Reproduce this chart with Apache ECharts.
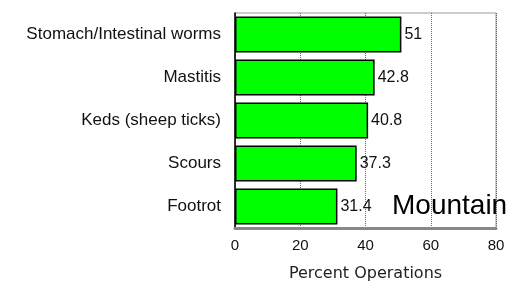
<!DOCTYPE html>
<html>
<head>
<meta charset="utf-8">
<script src="https://cdn.jsdelivr.net/npm/echarts@6/dist/echarts.min.js"></script>
<style>
  html, body { margin: 0; padding: 0; background: #fff; }
  #chart { width: 508px; height: 287px; }
</style>
</head>
<body>
<div id="chart"></div>
<script>
// 数据
var categories = ['Stomach/Intestinal worms', 'Mastitis', 'Keds (sheep ticks)', 'Scours', 'Footrot'];
var values = [51, 42.8, 40.8, 37.3, 31.4];
var valueLabels = ['51', '42.8', '40.8', '37.3', '31.4'];
var xTicks = [0, 20, 40, 60, 80];

var myChart = echarts.init(document.getElementById('chart'));
myChart.setOption({
  animation: false,
  backgroundColor: '#fff',
  grid: {
    left: 235,
    right: 12,
    top: 13,
    bottom: 54,
    show: true,
    borderColor: '#999',
    borderWidth: 1
  },
  graphic: [{
    type: 'text',
    x: 392,
    y: 206,
    style: {
      text: 'Mountain',
      font: '28px "Liberation Sans", Arial, sans-serif',
      fill: '#000',
      verticalAlign: 'middle'
    },
    z: 100
  }],
  xAxis: {
    type: 'value',
    min: xTicks[0],
    max: xTicks[xTicks.length - 1],
    interval: 20,
    name: 'Percent Operations',
    nameLocation: 'middle',
    nameGap: 38,
    nameTextStyle: { fontFamily: 'DejaVu Sans', fontSize: 16, color: '#222' },
    axisLine: { show: true, lineStyle: { color: '#888', width: 3 } },
    axisTick: { show: false },
    axisLabel: { fontFamily: 'Liberation Sans', fontSize: 15, color: '#111', margin: 10 },
    splitLine: { show: true, lineStyle: { type: 'dotted', color: '#666', width: 1 } }
  },
  yAxis: {
    type: 'category',
    inverse: true,
    data: categories,
    axisLine: { show: true, lineStyle: { color: '#000', width: 1.5 } },
    axisTick: { show: false },
    axisLabel: { fontFamily: 'Liberation Sans', fontSize: 17, color: '#111', margin: 14 }
  },
  series: [{
    type: 'bar',
    data: values,
    barCategoryGap: '16%',
    itemStyle: { color: '#00ff00', borderColor: '#000', borderWidth: 1.5 },
    label: {
      show: true,
      position: 'right',
      distance: 3,
      fontFamily: 'Liberation Sans',
      fontSize: 16,
      color: '#111',
      formatter: function (p) { return valueLabels[p.dataIndex]; }
    }
  }]
});
</script>
</body>
</html>
